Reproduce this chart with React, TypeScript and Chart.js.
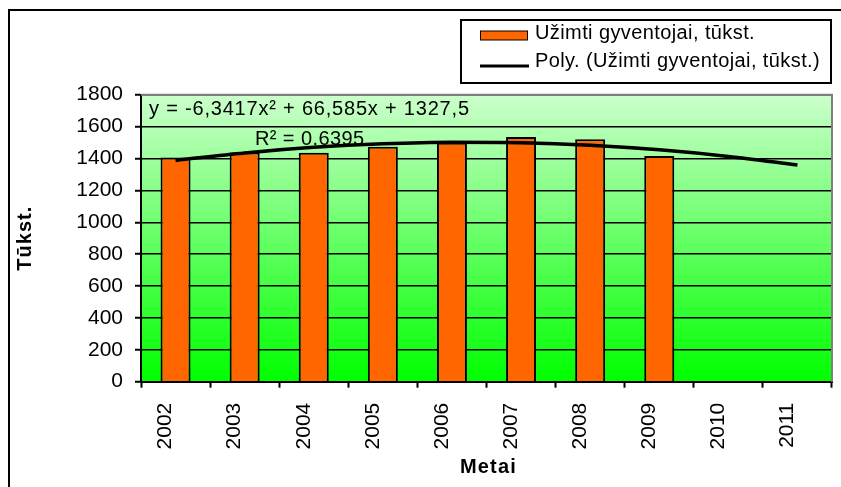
import React, { useEffect, useRef } from "react";
import { Chart, registerables } from "chart.js";

Chart.register(...registerables);

// ---- data ----
const years = ["2002", "2003", "2004", "2005", "2006", "2007", "2008", "2009", "2010", "2011"];
const employed = [1406, 1438, 1436, 1474, 1499, 1534, 1520, 1416];
const trendValues = [1388, 1435, 1470, 1492, 1502, 1499, 1483, 1454, 1413, 1359];
const yMin = 0;
const yMax = 1800;
const yStep = 200;
const seriesLabel = "Užimti gyventojai, tūkst.";
const trendLabel = "Poly. (Užimti gyventojai, tūkst.)";
const equationText = "y = -6,3417x² + 66,585x + 1327,5";
const r2Text = "R² = 0.6395";
const yTitle = "Tūkst.";
const xTitle = "Metai";

const FONT = "Arial, 'Liberation Sans', sans-serif";

function drawText(
  ctx: CanvasRenderingContext2D,
  text: string,
  x: number,
  y: number,
  font: string,
  opts: { align?: CanvasTextAlign; baseline?: CanvasTextBaseline; spacing?: number; rotate?: number; color?: string } = {}
) {
  ctx.save();
  ctx.font = font;
  (ctx as any).letterSpacing = (opts.spacing || 0) + "px";
  ctx.fillStyle = opts.color || "#000";
  ctx.textAlign = opts.align || "left";
  ctx.textBaseline = opts.baseline || "alphabetic";
  ctx.translate(x, y);
  if (opts.rotate) ctx.rotate(opts.rotate);
  ctx.fillText(text, 0, 0);
  ctx.restore();
}

const decorPlugin = {
  id: "decor",
  beforeDraw(chart: any) {
    const { ctx, chartArea: a } = chart;
    ctx.save();
    ctx.fillStyle = "#ffffff";
    ctx.fillRect(0, 0, chart.width, chart.height);
    const g = ctx.createLinearGradient(0, a.top, 0, a.bottom);
    g.addColorStop(0, "#ccffcc");
    g.addColorStop(1, "#00ff00");
    ctx.fillStyle = g;
    ctx.fillRect(a.left, a.top, a.right - a.left, a.bottom - a.top);
    ctx.restore();
  },
  beforeDatasetsDraw(chart: any) {
    const { ctx } = chart;
    drawText(ctx, equationText, 149, 115, `20px ${FONT}`, { spacing: 0.8 });
    drawText(ctx, r2Text, 255, 145, `20px ${FONT}`, { spacing: 0.4 });
  },
  afterDraw(chart: any) {
    const { ctx, chartArea: a } = chart;
    ctx.save();
    // plot area border (top / right)
    ctx.strokeStyle = "#808080";
    ctx.lineWidth = 2;
    ctx.beginPath();
    ctx.moveTo(a.left, a.top);
    ctx.lineTo(a.right, a.top);
    ctx.lineTo(a.right, a.bottom);
    ctx.stroke();
    // outer chart border
    ctx.strokeStyle = "#000";
    ctx.lineWidth = 2;
    ctx.strokeRect(9, 10, chart.width + 20, chart.height + 20);
    // legend box
    ctx.lineWidth = 2;
    ctx.strokeRect(461, 20, 370, 63);
    // swatch
    ctx.fillStyle = "#ff6600";
    ctx.fillRect(480.5, 31, 47, 9);
    ctx.lineWidth = 1;
    ctx.strokeRect(480.5, 31, 47, 9);
    // trend line sample
    ctx.lineWidth = 3;
    ctx.beginPath();
    ctx.moveTo(480, 66);
    ctx.lineTo(529, 66);
    ctx.stroke();
    ctx.restore();
    drawText(ctx, seriesLabel, 535, 39, `20px ${FONT}`, { spacing: 0.4 });
    drawText(ctx, trendLabel, 535, 67, `20px ${FONT}`, { spacing: 0.4 });
    // axis titles
    drawText(ctx, yTitle, 25, (a.top + a.bottom) / 2, `bold 20px ${FONT}`, {
      align: "center",
      baseline: "middle",
      spacing: 1,
      rotate: -Math.PI / 2,
    });
    drawText(ctx, xTitle, (a.left + a.right) / 2 + 2, 473, `bold 20px ${FONT}`, {
      align: "center",
      spacing: 1.2,
    });
  },
};

export default function App() {
  const canvasRef = useRef<HTMLCanvasElement | null>(null);

  useEffect(() => {
    if (!canvasRef.current) return;
    Chart.defaults.font.family = FONT;
    const chart = new Chart(canvasRef.current, {
      type: "bar",
      data: {
        labels: years,
        datasets: [
          {
            type: "line",
            label: trendLabel,
            data: trendValues,
            borderColor: "#000",
            borderWidth: 3.5,
            pointRadius: 0,
            fill: false,
            cubicInterpolationMode: "monotone",
            order: 0,
          } as any,
          {
            type: "bar",
            label: seriesLabel,
            data: employed,
            backgroundColor: "#ff6600",
            borderColor: "#000",
            borderWidth: 2,
            categoryPercentage: 1,
            barPercentage: 0.434,
            order: 1,
          },
        ],
      },
      options: {
        responsive: false,
        maintainAspectRatio: false,
        animation: false,
        devicePixelRatio: 1,
        layout: { padding: { top: 94.7, right: 9, bottom: 0, left: 0 } },
        plugins: {
          legend: { display: false },
          tooltip: { enabled: false },
          title: { display: false },
        },
        scales: {
          x: {
            type: "category",
            offset: true,
            grid: {
              offset: true,
              drawOnChartArea: false,
              drawTicks: true,
              tickLength: 6,
              color: "#000",
              tickColor: "#000",
              tickWidth: 2,
            },
            border: { display: true, color: "#000", width: 2 },
            ticks: {
              autoSkip: false,
              minRotation: 90,
              maxRotation: 90,
              color: "#000",
              font: { size: 21, family: FONT },
              padding: 15,
              labelOffset: -10,
            },
            afterFit(scale: any) {
              scale.height = 105.3;
            },
          },
          y: {
            min: yMin,
            max: yMax,
            grid: {
              color: "#000",
              lineWidth: 1.5,
              drawTicks: true,
              tickLength: 6,
              tickColor: "#000",
              tickWidth: 2,
            },
            border: { display: true, color: "#000", width: 2 },
            ticks: {
              stepSize: yStep,
              color: "#000",
              font: { size: 21, family: FONT },
              padding: 12,
              callback: (v: any) => String(v),
            },
            afterFit(scale: any) {
              scale.width = 141;
            },
          },
        },
      },
      plugins: [decorPlugin],
    });
    return () => chart.destroy();
  }, []);

  return (
    <div style={{ position: "fixed", left: 0, top: 0, width: 841, height: 487, background: "#fff" }}>
      <canvas ref={canvasRef} width={841} height={487} style={{ display: "block", width: 841, height: 487 }} />
    </div>
  );
}
